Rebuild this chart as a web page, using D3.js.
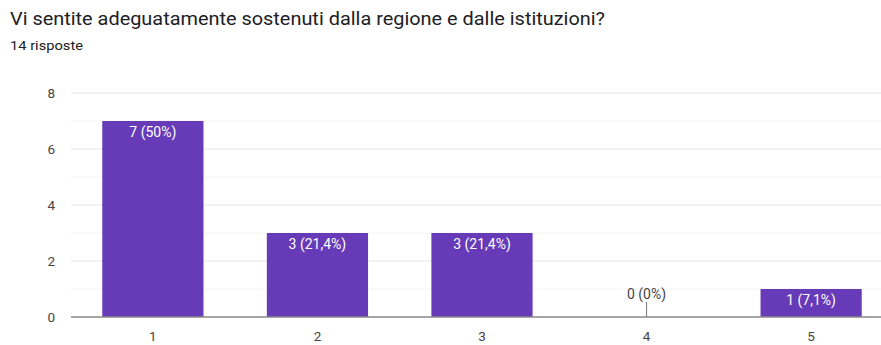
<!DOCTYPE html>
<html>
<head>
<meta charset="utf-8">
<script src="https://cdn.jsdelivr.net/npm/d3@7"></script>
<style>
  body { margin: 0; background: #fff; font-family: Roboto, Arial, sans-serif; }
  svg { display: block; }
</style>
</head>
<body>
<svg width="881" height="345"></svg>
<script>
// data
var categories = ["1", "2", "3", "4", "5"];
var counts = [7, 3, 3, 0, 1];
var labels = ["7 (50%)", "3 (21,4%)", "3 (21,4%)", "0 (0%)", "1 (7,1%)"];
var yTicks = [0, 2, 4, 6, 8];
var yMinor = [1, 3, 5, 7];

var svg = d3.select("svg");

svg.append("text")
    .attr("x", 10).attr("y", 25)
    .attr("textLength", 595).attr("lengthAdjust", "spacingAndGlyphs")
    .style("font-size", "17.5px").style("fill", "#202124")
    .text("Vi sentite adeguatamente sostenuti dalla regione e dalle istituzioni?");
svg.append("text")
    .attr("x", 10).attr("y", 50)
    .attr("textLength", 73).attr("lengthAdjust", "spacingAndGlyphs")
    .style("font-size", "13px").style("fill", "#202124")
    .text("14 risposte");

var x = d3.scaleBand().domain(categories).range([71, 893]).paddingInner(0.385).paddingOuter(0.19);
var y = d3.scaleLinear().domain([0, 8]).range([317, 93]);

var g = svg.append("g");

// minor gridlines
g.selectAll(".minor").data(yMinor).enter().append("line")
    .attr("x1", 71).attr("x2", 881)
    .attr("y1", function(d) { return y(d); }).attr("y2", function(d) { return y(d); })
    .style("stroke", "#f4f4f4").style("stroke-width", 1);

// major gridlines
g.selectAll(".major").data(yTicks.slice(1)).enter().append("line")
    .attr("x1", 71).attr("x2", 881)
    .attr("y1", function(d) { return y(d); }).attr("y2", function(d) { return y(d); })
    .style("stroke", "#e6e6e6").style("stroke-width", 1);

// y tick labels
g.selectAll(".ylab").data(yTicks).enter().append("text")
    .attr("x", 55).attr("y", function(d) { return y(d) + 5; })
    .attr("text-anchor", "end")
    .style("font-size", "13.5px").style("fill", "#444")
    .text(function(d) { return d; });

// bars
g.selectAll(".bar").data(counts).enter().append("rect")
    .attr("x", function(d, i) { return x(categories[i]); })
    .attr("y", function(d) { return y(d); })
    .attr("width", x.bandwidth())
    .attr("height", function(d) { return y(0) - y(d); })
    .style("fill", "#673ab7");

// zero-value stem
g.selectAll(".stem").data(counts.filter(function(d) { return d === 0; })).enter().append("line")
    .attr("x1", x("4") + x.bandwidth() / 2).attr("x2", x("4") + x.bandwidth() / 2)
    .attr("y1", y(0) - 15).attr("y2", y(0))
    .style("stroke", "#777").style("stroke-width", 1);

// value labels
g.selectAll(".vlab").data(counts).enter().append("text")
    .attr("x", function(d, i) { return x(categories[i]) + x.bandwidth() / 2; })
    .attr("y", function(d) { return d === 0 ? y(0) - 18 : y(d) + 16; })
    .attr("text-anchor", "middle")
    .style("font-size", "14px")
    .style("fill", function(d) { return d === 0 ? "#444" : "#fff"; })
    .text(function(d, i) { return labels[i]; });

// baseline
g.append("line")
    .attr("x1", 71).attr("x2", 881)
    .attr("y1", y(0)).attr("y2", y(0))
    .style("stroke", "#888").style("stroke-width", 1.5);

// x tick labels
g.selectAll(".xlab").data(categories).enter().append("text")
    .attr("x", function(d) { return x(d) + x.bandwidth() / 2; })
    .attr("y", 341)
    .attr("text-anchor", "middle")
    .style("font-size", "13.5px").style("fill", "#444")
    .text(function(d) { return d; });
</script>
</body>
</html>
